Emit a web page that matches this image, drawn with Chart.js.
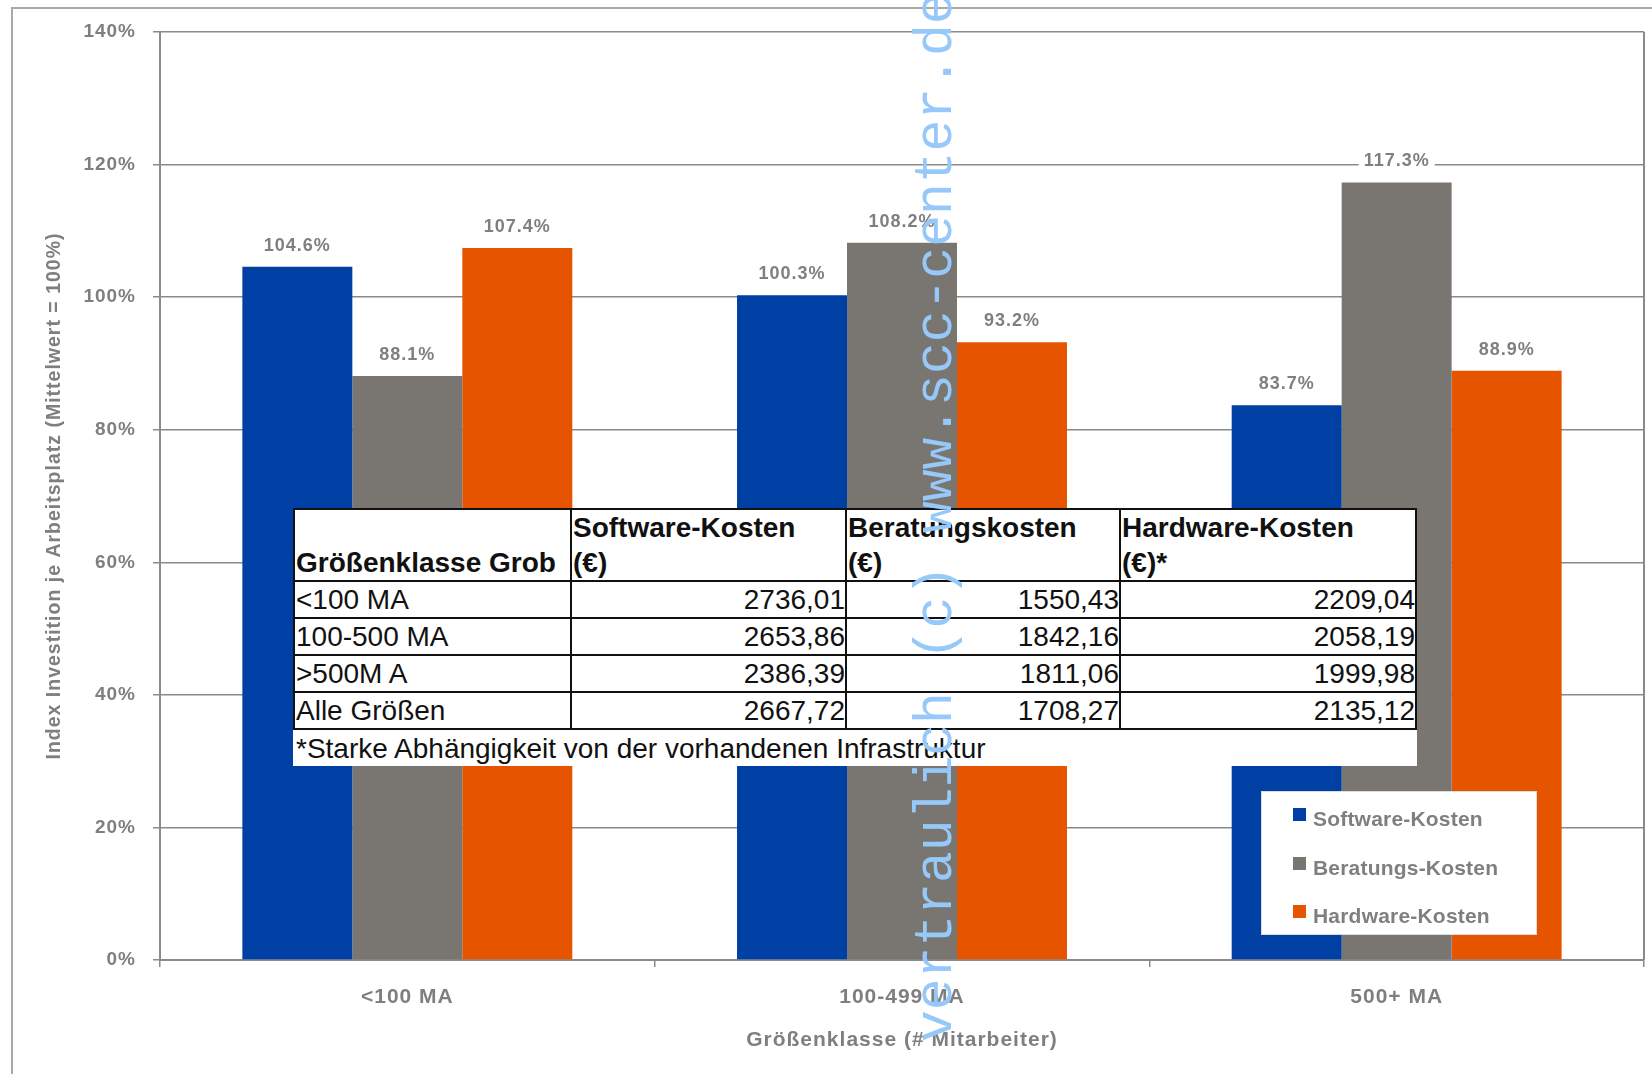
<!DOCTYPE html>
<html>
<head>
<meta charset="utf-8">
<script src="https://cdn.jsdelivr.net/npm/chart.js@4.4.1/dist/chart.umd.min.js"></script>
<style>
html,body{margin:0;padding:0;background:#fff;}
#wrap{position:relative;width:1652px;height:1074px;overflow:hidden;font-family:'Liberation Sans',Arial,sans-serif;}
#chartCanvas{position:absolute;left:0;top:0;}
#frame{position:absolute;left:11px;top:7px;width:1700px;height:1100px;border-top:2px solid #a8a8a8;border-left:2px solid #a8a8a8;pointer-events:none;}
#tbl{position:absolute;left:293px;top:508px;border-collapse:collapse;table-layout:fixed;background:#fff;color:#111;font-size:28px;width:1122px;}
#tbl td,#tbl th{border:2px solid #111;padding:0 1px;line-height:35px;white-space:nowrap;overflow:visible;}
#tbl th{font-weight:bold;text-align:left;vertical-align:bottom;height:66px;}
#tbl td.num{text-align:right;padding-right:0;}
#tbl tr.row td{height:35px;}
#tbl td.foot{border:none;height:36px;padding-left:2px;}
#legend{position:absolute;left:1261px;top:791px;width:276px;height:144px;background:#fff;border:1px solid #dcdcdc;box-sizing:border-box;}
.lsw{position:absolute;left:31px;width:13px;height:13px;}
.ltx{position:absolute;left:51px;font-weight:bold;font-size:21px;line-height:21px;color:#7f7f7f;letter-spacing:0.2px;white-space:nowrap;}
#wm{position:absolute;left:911px;top:1042px;transform:rotate(-90deg);transform-origin:0 0;font-family:'Liberation Mono',monospace;font-size:53px;line-height:53px;color:#96c8fa;white-space:nowrap;pointer-events:none;}
</style>
</head>
<body>
<div id="wrap">
  <canvas id="chartCanvas" width="1652" height="1074"></canvas>
  <div id="frame"></div>
  <table id="tbl"></table>
  <div id="legend"></div>
  <div id="wm">vertraulich (c) www.scc-center.de</div>
</div>
<script>
// ---- chart data ----
const categories = ['<100 MA', '100-499 MA', '500+ MA'];
const seriesNames = ['Software-Kosten', 'Beratungs-Kosten', 'Hardware-Kosten'];
const softwareValues = [104.6, 100.3, 83.7];
const beratungValues = [88.1, 108.2, 117.3];
const hardwareValues = [107.4, 93.2, 88.9];
const seriesColors = ['#003fa3', '#797671', '#e75400'];
const yTickMin = 0;
const yTickMax = 140;
const yTickStep = 20;

// ---- table data ----
const tableHeader = ['Größenklasse Grob', 'Software-Kosten<br>(€)', 'Beratungskosten<br>(€)', 'Hardware-Kosten<br>(€)*'];
const tableRowLabels = ['<100 MA', '100-500 MA', '>500M A', 'Alle Größen'];
const tableSoftware = ['2736,01', '2653,86', '2386,39', '2667,72'];
const tableBeratung = ['1550,43', '1842,16', '1811,06', '1708,27'];
const tableHardware = ['2209,04', '2058,19', '1999,98', '2135,12'];
const tableFootnote = '*Starke Abhängigkeit von der vorhandenen Infrastruktur';

const textGrey = '#7f7f7f';
const lineGrey = '#8a8a8a';
const fontFam = "'Liberation Sans', Arial, sans-serif";

// build table
(function(){
  const esc = s => s.replace(/&/g,'&amp;').replace(/</g,'&lt;').replace(/>/g,'&gt;');
  let h = '<colgroup><col style="width:277px"><col style="width:275px"><col style="width:274px"><col style="width:296px"></colgroup>';
  h += '<tr>' + tableHeader.map(t => '<th>' + t + '</th>').join('') + '</tr>';
  for (let i = 0; i < tableRowLabels.length; i++) {
    h += '<tr class="row"><td>' + esc(tableRowLabels[i]) + '</td><td class="num">' + tableSoftware[i] +
         '</td><td class="num">' + tableBeratung[i] + '</td><td class="num">' + tableHardware[i] + '</td></tr>';
  }
  h += '<tr><td class="foot" colspan="4">' + esc(tableFootnote) + '</td></tr>';
  document.getElementById('tbl').innerHTML = h;
})();

// build legend
(function(){
  const lg = document.getElementById('legend');
  const tops = [16, 65, 113];
  seriesNames.forEach((n, i) => {
    const sw = document.createElement('div');
    sw.className = 'lsw'; sw.style.top = tops[i] + 'px'; sw.style.background = seriesColors[i];
    const tx = document.createElement('div');
    tx.className = 'ltx'; tx.style.top = (tops[i]) + 'px'; tx.textContent = n;
    lg.appendChild(sw); lg.appendChild(tx);
  });
})();

const spacingPlugin = {
  id: 'spacing',
  beforeLayout(c){ c.ctx.letterSpacing = '1px'; },
  beforeDraw(c){ c.ctx.letterSpacing = '1px'; }
};

const valueLabelPlugin = {
  id: 'valueLabels',
  afterDatasetsDraw(chart){
    const ctx = chart.ctx;
    ctx.save();
    ctx.letterSpacing = '1px';
    ctx.font = 'bold 18px ' + fontFam;
    ctx.textAlign = 'center';
    ctx.textBaseline = 'middle';
    chart.data.datasets.forEach((ds, i) => {
      const meta = chart.getDatasetMeta(i);
      meta.data.forEach((bar, j) => {
        const txt = ds.data[j].toFixed(1) + '%';
        const w = ctx.measureText(txt).width;
        const y = bar.y - 21;
        ctx.fillStyle = '#fff';
        ctx.fillRect(bar.x - w / 2 - 5, y - 10, w + 10, 20);
        ctx.fillStyle = textGrey;
        ctx.fillText(txt, bar.x, y);
      });
    });
    ctx.restore();
  },
  afterDraw(chart){
    const a = chart.chartArea, ctx = chart.ctx;
    ctx.save();
    ctx.strokeStyle = lineGrey;
    ctx.lineWidth = 2;
    ctx.beginPath();
    ctx.moveTo(a.right, a.top);
    ctx.lineTo(a.right, a.bottom);
    ctx.stroke();
    ctx.restore();
  }
};

new Chart(document.getElementById('chartCanvas'), {
  type: 'bar',
  data: {
    labels: categories,
    datasets: [
      { label: seriesNames[0], data: softwareValues, backgroundColor: seriesColors[0], borderWidth: 0 },
      { label: seriesNames[1], data: beratungValues, backgroundColor: seriesColors[1], borderWidth: 0 },
      { label: seriesNames[2], data: hardwareValues, backgroundColor: seriesColors[2], borderWidth: 0 }
    ]
  },
  options: {
    responsive: false,
    devicePixelRatio: 1,
    animation: false,
    datasets: { bar: { barPercentage: 1, categoryPercentage: 0.667 } },
    layout: { padding: { top: 32, right: 8, left: 0, bottom: 0 } },
    plugins: { legend: { display: false }, tooltip: { enabled: false } },
    scales: {
      x: {
        grid: { display: true, drawOnChartArea: false, drawTicks: true, tickLength: 7, color: lineGrey, lineWidth: 1.5, offset: true },
        border: { display: true, color: lineGrey, width: 2 },
        ticks: { color: textGrey, font: { family: fontFam, size: 21, weight: 'bold' }, padding: 18, maxRotation: 0 },
        title: { display: true, text: 'Größenklasse (# Mitarbeiter)', color: textGrey,
                 font: { family: fontFam, size: 21, weight: 'bold' }, padding: { top: 0, bottom: 21 } },
        afterFit(s){ s.height = 114; s.paddingLeft = 0; s.paddingRight = 0; }
      },
      y: {
        min: yTickMin, max: yTickMax,
        ticks: { stepSize: yTickStep, callback: v => v + '%', color: textGrey,
                 font: { family: fontFam, size: 19, weight: 'bold' }, padding: 17 },
        grid: { color: lineGrey, lineWidth: 1.5, tickLength: 7 },
        border: { display: true, color: lineGrey, width: 2 },
        title: { display: true, text: 'Index Investition je Arbeitsplatz (Mittelwert = 100%)', color: textGrey,
                 font: { family: fontFam, size: 19.5, weight: 'bold' }, padding: { top: 43, bottom: 0 } },
        afterFit(s){ s.width = 160; s.paddingTop = 0; s.paddingBottom = 0; }
      }
    }
  },
  plugins: [spacingPlugin, valueLabelPlugin]
});
</script>
</body>
</html>
